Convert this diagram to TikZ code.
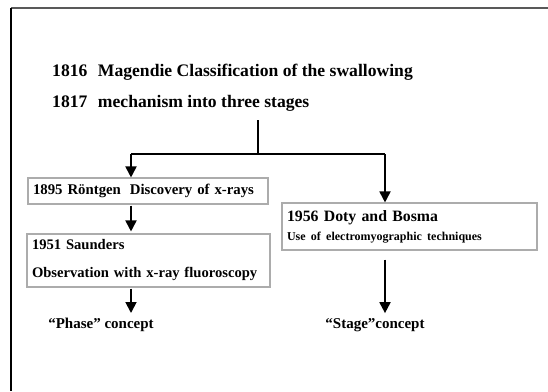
\documentclass[tikz,border=0pt]{standalone}
\usepackage{fontspec}
\setmainfont{Liberation Serif}
\usetikzlibrary{arrows.meta}
\begin{document}
\begin{tikzpicture}[x=1pt,y=-1pt,
  title/.style={anchor=west,inner sep=0pt,font=\bfseries\fontsize{17.6}{21}\selectfont},
  eventbox/.style={draw=gray!65,line width=1.1pt,inner xsep=5pt,inner ysep=0pt,align=left,anchor=center},
  label/.style={inner sep=0pt,font=\bfseries\fontsize{15}{18}\selectfont},
  flow/.style={line width=1.8pt,-{Triangle[length=11pt,width=11pt]}},
  link/.style={line width=1.8pt}]
  \useasboundingbox (0,0) rectangle (548,391);
  % page frame, top and left edges
  \draw[line width=1.8pt,gray!70!black] (548,8) -- (11,8);
  \draw[line width=1.8pt,black] (11,8) -- (11,391);

  % heading
  \node[title] (t1) at (52,72) {1816\hspace{0.6em}Magendie Classification of the swallowing};
  \node[title] (t2) at (52,103) {1817\hspace{0.6em}mechanism into three stages};

  % boxes
  \node[eventbox,text width=230pt,minimum height=26pt,font=\bfseries\fontsize{14.8}{17}\selectfont] (b1) at (148,191)
    {1895 Röntgen\hspace{0.6em}Discovery of x-rays};
  \node[eventbox,text width=233pt,minimum height=53pt,font=\bfseries\fontsize{14.6}{28}\selectfont] (b2) at (148.5,260.5)
    {1951 Saunders\\Observation with x-ray fluoroscopy};
  \node[eventbox,text width=245pt,minimum height=47pt,font=\bfseries\fontsize{15.8}{18}\selectfont] (b3) at (409.5,226.5)
    {1956 Doty and Bosma\\[1pt]{\fontsize{12}{14}\selectfont Use of electromyographic techniques}};

  % outcomes
  \node[label] (phase) at (101,325) {“Phase” concept};
  \node[label] (stage) at (375,325) {“Stage”concept};

  % branching connectors
  \coordinate (stem) at (258,120);
  \coordinate (split) at (258,154);
  \coordinate (jl) at (131,154);
  \coordinate (jr) at (385,154);
  \draw[link] (stem) -- (split);
  \draw[link] (jl) -- (jr);
  \draw[flow] (jl) -- (b1.north -| jl);
  \draw[flow] (jr) -- (b3.north -| jr);
  \draw[flow,shorten <=1pt,shorten >=2pt] (b1.south -| jl) -- (b2.north -| jl);
  \draw[flow,shorten <=1pt] (b2.south -| jl) -- ([yshift=5pt]phase.north -| jl);
  \draw[flow,shorten <=9pt] (b3.south -| jr) -- ([yshift=5pt]stage.north -| jr);
\end{tikzpicture}
\end{document}
